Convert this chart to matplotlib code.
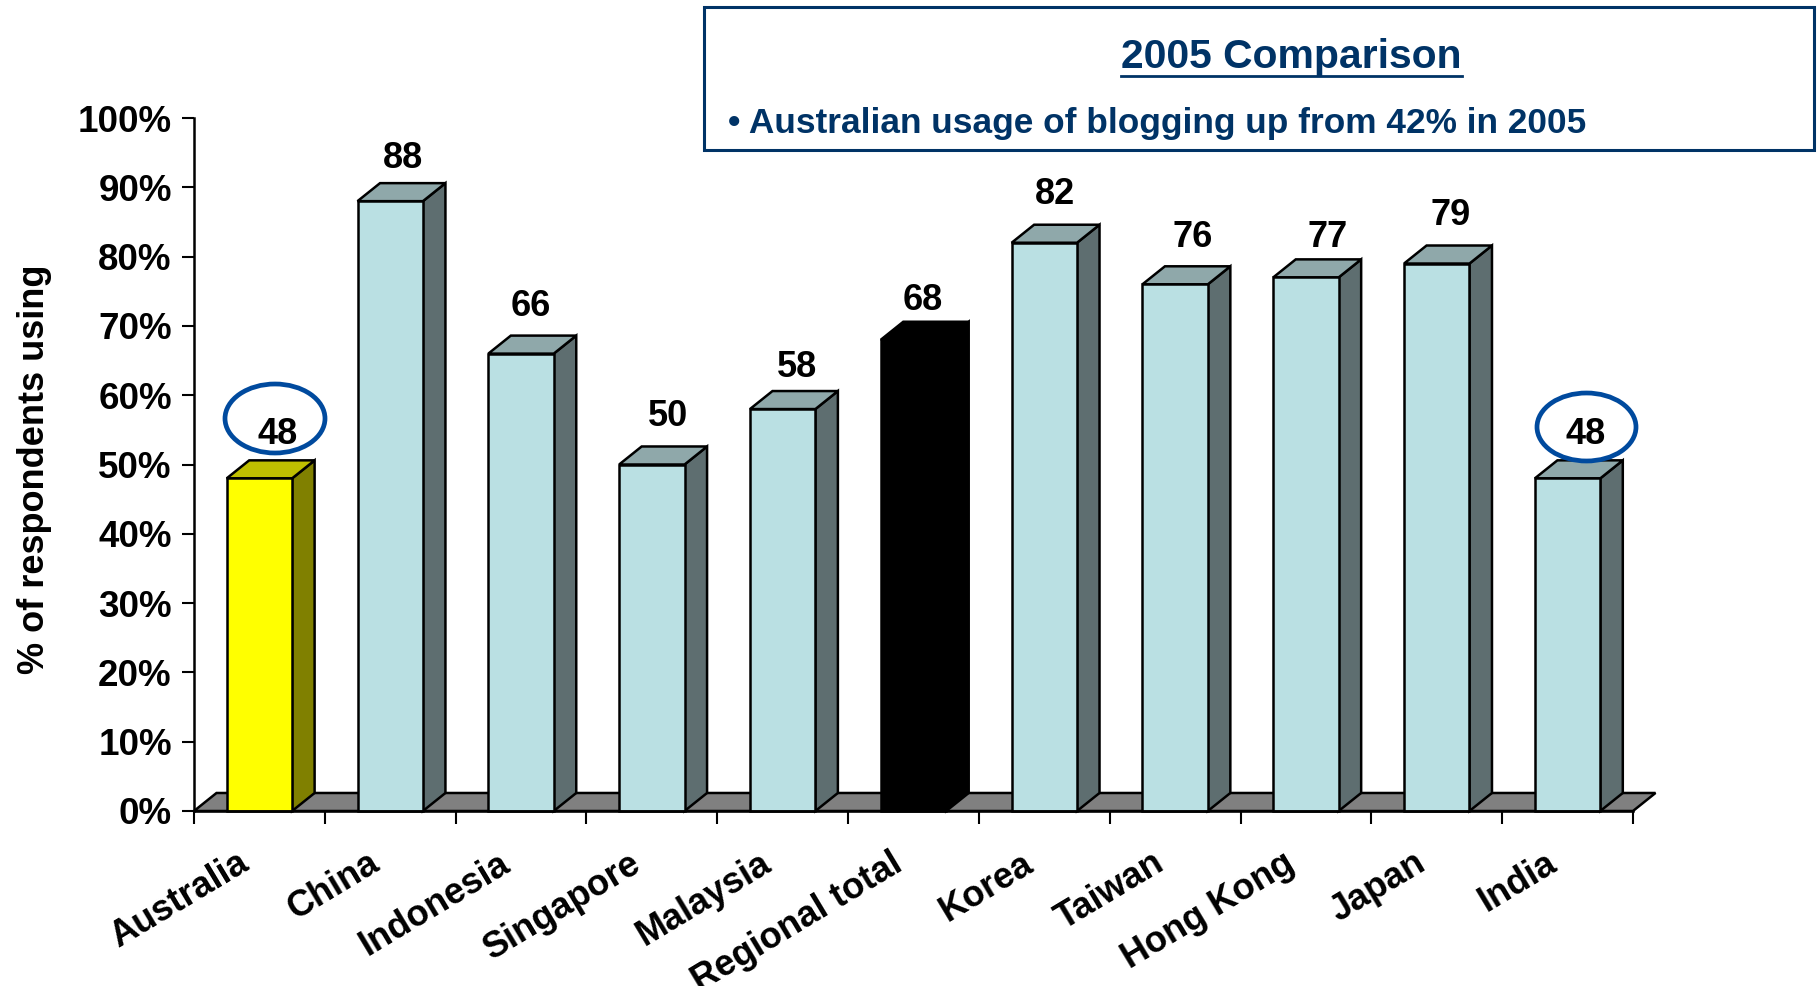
import matplotlib
matplotlib.use("Agg")
import matplotlib.pyplot as plt
from matplotlib.patches import Ellipse, Polygon, Rectangle
from matplotlib.transforms import offset_copy, ScaledTranslation

W, H = 1819, 986
categories = ["Australia", "China", "Indonesia", "Singapore", "Malaysia", "Regional total",
              "Korea", "Taiwan", "Hong Kong", "Japan", "India"]
values = [48, 88, 66, 50, 58, 68, 82, 76, 77, 79, 48]
yticks = list(range(0, 101, 10))
ytick_labels = [f"{v}%" for v in yticks]
title_text = "2005 Comparison"
bullet_text = "\u2022 Australian usage of blogging up from 42% in 2005"
ylabel_text = "% of respondents using"

# label nudges in pixels relative to the bar centre / bar top
label_dx = [18, 13, 10, 16, 14, 9, 11, 17, 22, 14, 18]
label_dy = [44, 43, 47, 48, 42, 39, 48, 47, 40, 48, 44]

face = {"default": ("#BAE0E3", "#8FA8AA", "#5E6E70"),
        "Australia": ("#FFFF00", "#BFBF00", "#808000"),
        "Regional total": ("#000000", "#000000", "#000000")}

plt.rcParams["font.family"] = ["Liberation Sans", "DejaVu Sans"]
plt.rcParams["font.weight"] = "bold"

fig = plt.figure(figsize=(W / 100, H / 100), dpi=100, facecolor="white")
L, R, T, B = 194, 1633, 118, 811
ax = fig.add_axes([L / W, 1 - B / H, (R - L) / W, (B - T) / H])
ax.set_xlim(0, 11)
ax.set_ylim(0, 100)
for s in ("top", "right"):
    ax.spines[s].set_visible(False)
for s in ("left", "bottom"):
    ax.spines[s].set_linewidth(1.8)
    ax.spines[s].set_zorder(6)

bw, dx, dy = 0.5, 0.172, 2.6
lw = 1.8
ax.add_patch(Polygon([(0, 0), (dx, dy), (11 + dx, dy), (11, 0)], closed=True, fc="#808080",
                     ec="black", lw=lw, clip_on=False, zorder=1))

for i, (c, v) in enumerate(zip(categories, values)):
    x0 = i + 0.5 - bw / 2
    x1 = x0 + bw
    front, top, side = face.get(c, face["default"])
    ec = "black"
    ax.add_patch(Polygon([(x1, 0), (x1 + dx, dy), (x1 + dx, v + dy), (x1, v)], closed=True,
                         fc=side, ec=ec, lw=lw, clip_on=False, zorder=3, joinstyle="miter"))
    ax.add_patch(Polygon([(x0, v), (x0 + dx, v + dy), (x1 + dx, v + dy), (x1, v)], closed=True,
                         fc=top, ec=ec, lw=lw, clip_on=False, zorder=3, joinstyle="miter"))
    ax.add_patch(Rectangle((x0, 0), bw, v, fc=front, ec=ec, lw=lw, clip_on=False, zorder=4))
    tr = offset_copy(ax.transData, fig=fig, x=label_dx[i], y=label_dy[i], units="dots")
    ax.text(i + 0.5, v, str(v), transform=tr, ha="center", va="center", fontsize=26,
            color="black", zorder=7)

ax.set_yticks(yticks, ytick_labels)
ax.set_xticks(range(0, 12), [""] * 12)
ax.set_xticks([i + 0.5 for i in range(len(categories))], categories, minor=True)
ax.tick_params(axis="y", length=9, width=1.5, pad=7, labelsize=26.5)
ax.tick_params(axis="x", which="major", length=9, width=1.5, direction="out")
ax.tick_params(axis="x", which="minor", length=0, pad=25, labelsize=26)
shift = ScaledTranslation(-0.23, 0, fig.dpi_scale_trans)
for lab in ax.get_xticklabels(minor=True):
    lab.set(rotation=31, ha="right", va="top", rotation_mode="anchor")
    lab.set_transform(lab.get_transform() + shift)

fig.text(35 / W, 1 - 469 / H, ylabel_text, rotation=90, ha="center", va="center", fontsize=26)

# call-out box
navy = "#003366"
fig.add_artist(Rectangle((704 / W, 1 - 150 / H), (1814 - 704) / W, (150 - 7) / H,
                         transform=fig.transFigure, fc="white", ec=navy, lw=2.2))
fig.text(1291 / W, 1 - 57 / H, title_text, ha="center", va="center", fontsize=29.4, color=navy)
fig.add_artist(plt.Line2D([1121 / W, 1462 / W], [1 - 76 / H] * 2, color=navy, lw=2))
fig.text(728 / W, 1 - 124 / H, bullet_text, ha="left", va="center", fontsize=25.4, color=navy)

# highlight ellipses
for (x0, x1, y0, y1) in [(225, 325, 384, 453), (1537, 1636, 393, 461)]:
    fig.add_artist(Ellipse(((x0 + x1) / 2 / W, 1 - (y0 + y1) / 2 / H), (x1 - x0) / W,
                           (y1 - y0) / H, transform=fig.transFigure, fc="none",
                           ec="#004A9E", lw=3.4))

fig.savefig("out.png", dpi=100, facecolor="white")
